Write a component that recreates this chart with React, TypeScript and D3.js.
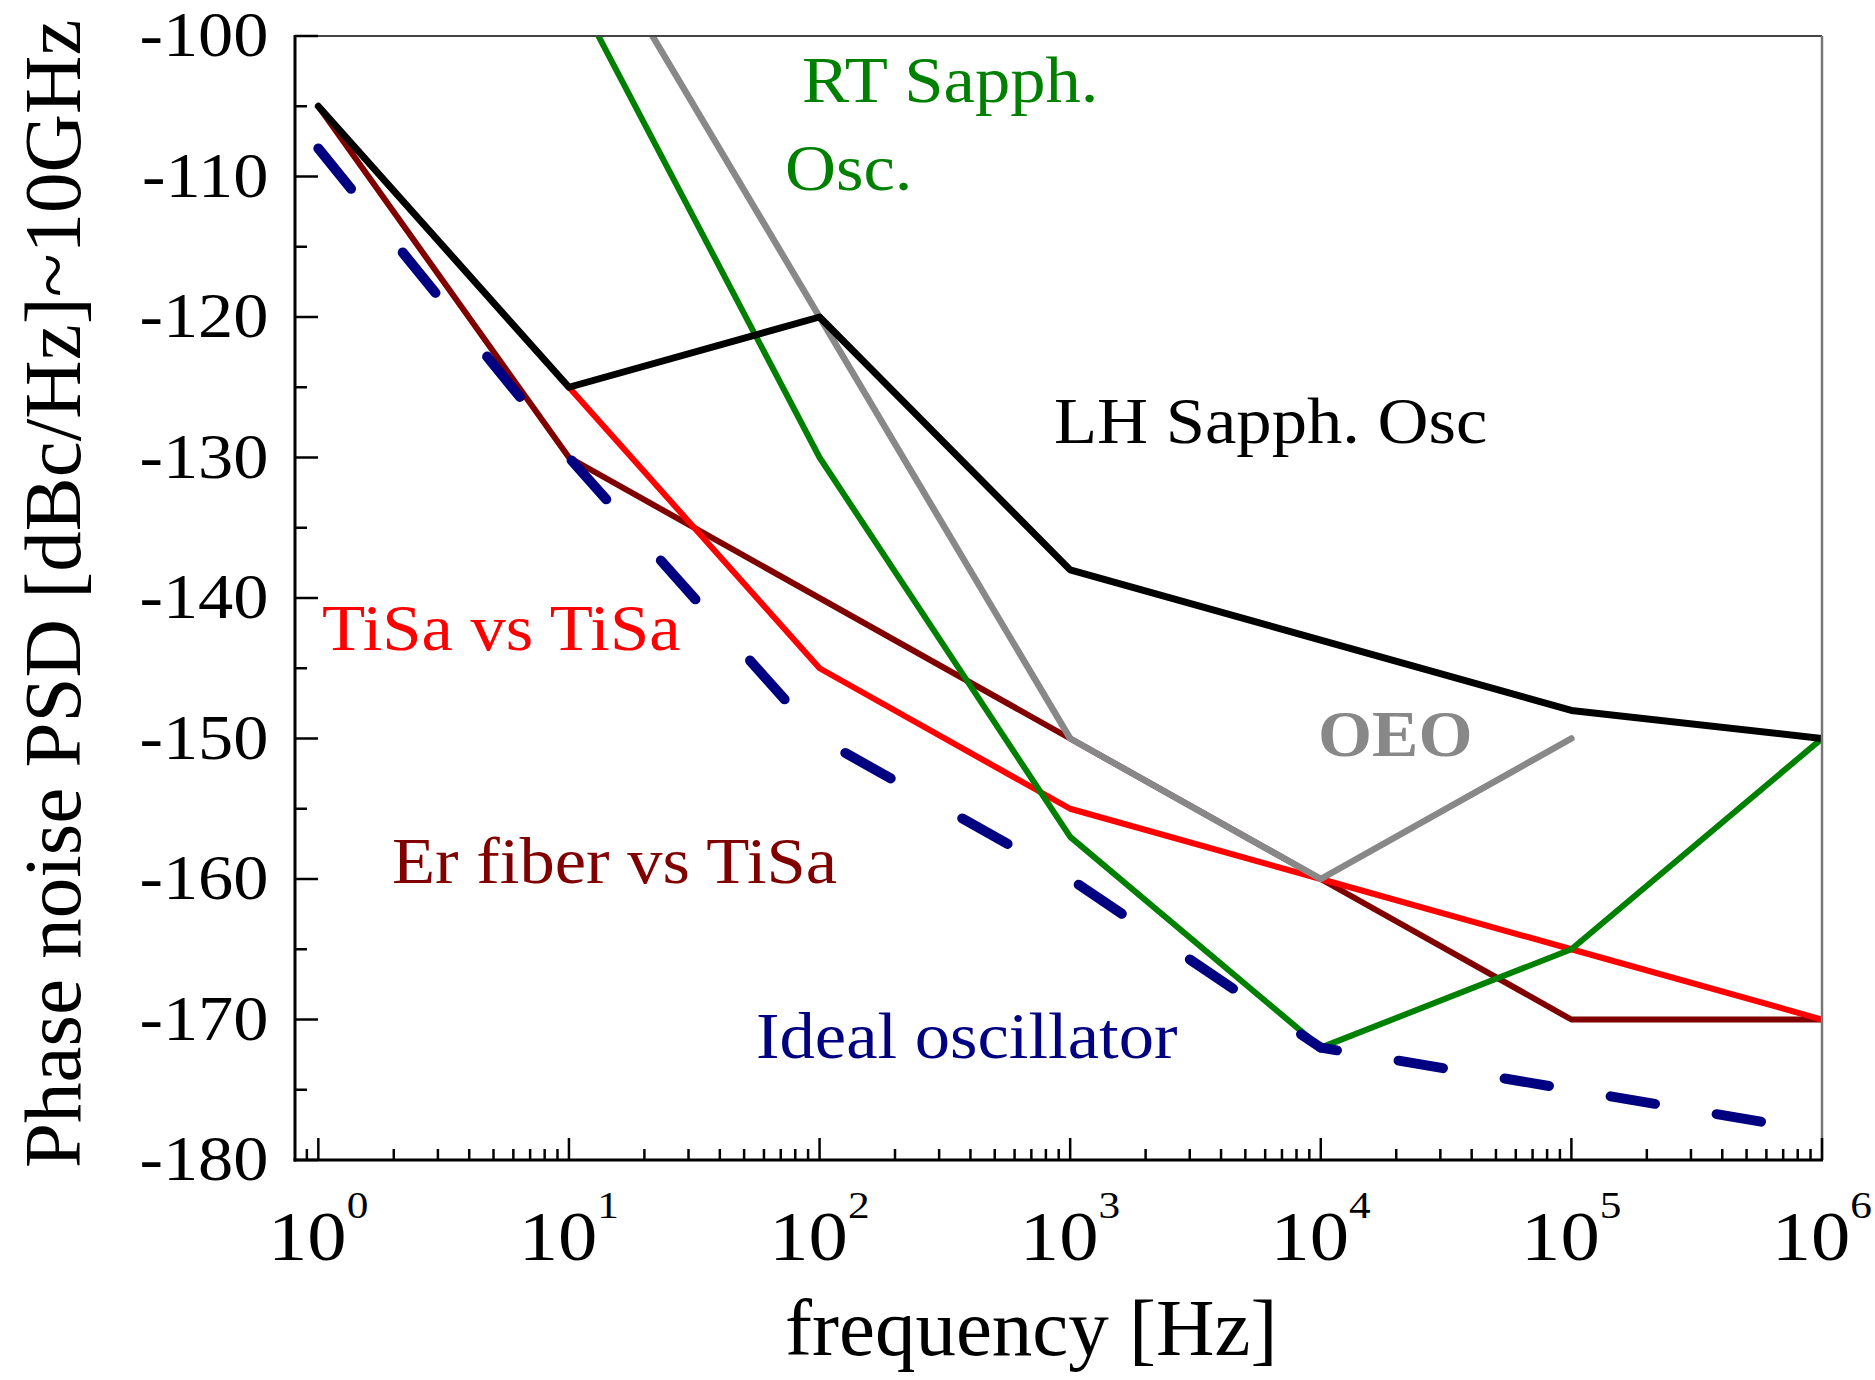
import React from 'react';
import * as d3 from 'd3';

// ---------- data ----------
const yMajorTicks = [-180, -170, -160, -150, -140, -130, -120, -110, -100];
const yMinorTicks = [-175, -165, -155, -145, -135, -125, -115, -105];
const xMajorExponents = [0, 1, 2, 3, 4, 5, 6];
const xMinorMantissas = [2, 3, 4, 5, 6, 7, 8, 9];

const freqLH = [1, 10, 100, 1000, 1e4, 1e5, 1e6];
const psdLH = [-105, -125, -120, -138, -143, -148, -150];

const freqEr = [1, 10, 1000, 1e4, 1e5, 1e6];
const psdEr = [-105, -130, -150, -160, -170, -170];

const freqTiSa = [10, 100, 1000, 1e4, 1e5, 1e6];
const psdTiSa = [-125, -145, -155, -160, -165, -170];

const freqRT = [10, 100, 1000, 1e4, 1e5, 1e6];
const psdRT = [-96, -130, -157, -172, -165, -150];

const freqOEO = [10, 1000, 1e4, 1e5];
const psdOEO = [-90, -150, -160, -150];

const freqIdeal = [1, 10, 100, 1000, 1e4, 1e5, 1e6];
const psdIdeal = [-108, -130, -150, -160, -172, -175, -178];

// ---------- layout ----------
const W = 1875;
const H = 1380;
const PL = 295, PR = 1822, PT = 36, PB = 1160;
const FONT = "'Liberation Serif', 'Times New Roman', serif";

const labels = [
  { text: 'RT Sapph.', x: 802, y: 102, color: '#008000', size: 66, bold: false },
  { text: 'Osc.', x: 785, y: 190, color: '#008000', size: 66, bold: false },
  { text: 'LH Sapph. Osc', x: 1054, y: 443, color: '#000000', size: 66, bold: false },
  { text: 'TiSa vs TiSa', x: 322, y: 650, color: '#ff0000', size: 66, bold: false },
  { text: 'Er fiber vs TiSa', x: 392, y: 883, color: '#800000', size: 66, bold: false },
  { text: 'Ideal oscillator', x: 756, y: 1058, color: '#000080', size: 66, bold: false },
  { text: 'OEO', x: 1318, y: 756, color: '#888888', size: 65, bold: true },
];

export default function App() {
  const x = d3.scaleLog().domain([0.807, 1e6]).range([PL, PR]);
  const y = d3.scaleLinear().domain([-180, -100]).range([PB, PT]);

  const line = d3
    .line<[number, number]>()
    .x((d) => x(d[0]))
    .y((d) => y(d[1]));

  const zip = (f: number[], v: number[]) => f.map((ff, i) => [ff, v[i]] as [number, number]);

  const series = [
    { pts: zip(freqEr, psdEr), color: '#800000', w: 6 },
    { pts: zip(freqTiSa, psdTiSa), color: '#ff0000', w: 6 },
    { pts: zip(freqOEO, psdOEO), color: '#888888', w: 6.5 },
    { pts: zip(freqRT, psdRT), color: '#008000', w: 6 },
    { pts: zip(freqLH, psdLH), color: '#000000', w: 7 },
  ];

  // ideal oscillator: dashed, drawn in two parts (steep / shallow) split at 1e4
  const ideal = zip(freqIdeal, psdIdeal);
  const splitIdx = freqIdeal.indexOf(1e4);
  const partA = ideal.slice(0, splitIdx + 1);
  const partB = ideal.slice(splitIdx);

  const xMinorTicks: number[] = [0.9];
  for (let e = 0; e < 6; e++) {
    for (const m of xMinorMantissas) xMinorTicks.push(m * Math.pow(10, e));
  }

  return (
    <svg
      width={W}
      height={H}
      style={{ position: 'absolute', left: 0, top: 0, background: '#fff' }}
      fontFamily={FONT}
    >
      <defs>
        <clipPath id="plotClip">
          <rect x={PL} y={PT} width={PR - PL} height={PB - PT} />
        </clipPath>
      </defs>
      <rect x={0} y={0} width={W} height={H} fill="#fff" />

      {/* series */}
      <g clipPath="url(#plotClip)" fill="none" strokeLinejoin="round" strokeLinecap="round">
        {series.map((s, i) => (
          <path key={i} d={line(s.pts) || ''} stroke={s.color} strokeWidth={s.w} />
        ))}
        <path d={line(partA) || ''} stroke="#000080" strokeWidth={10} strokeDasharray="52,82" />
        <path
          d={line(partB) || ''}
          stroke="#000080"
          strokeWidth={10}
          strokeDasharray="45,62.5"
          strokeDashoffset={28.6}
        />
      </g>

      {/* frame */}
      <line x1={PL} x2={PR} y1={PT} y2={PT} stroke="#444" strokeWidth={2} />
      <line x1={PR} x2={PR} y1={PT} y2={PB} stroke="#777" strokeWidth={2.5} />
      <line x1={PL} x2={PL} y1={PT - 1} y2={PB + 1.5} stroke="#000" strokeWidth={3} />
      <line x1={PL - 1.5} x2={PR + 1} y1={PB} y2={PB} stroke="#000" strokeWidth={3} />

      {/* y ticks */}
      {yMajorTicks.map((t) => (
        <line key={'ym' + t} x1={PL} x2={PL + 23} y1={y(t)} y2={y(t)} stroke="#000" strokeWidth={2.5} />
      ))}
      {yMinorTicks.map((t) => (
        <line key={'yn' + t} x1={PL} x2={PL + 12} y1={y(t)} y2={y(t)} stroke="#000" strokeWidth={2.5} />
      ))}
      {yMajorTicks.map((t) => (
        <g key={'yl' + t} transform={`translate(268.5,${y(t) + 20}) scale(1.1,1)`}>
          <text x={0} y={0} fontSize={64} textAnchor="end" fill="#000">
            {String(t)}
          </text>
        </g>
      ))}

      {/* x ticks */}
      {xMajorExponents.map((e) => (
        <line
          key={'xm' + e}
          x1={x(Math.pow(10, e))}
          x2={x(Math.pow(10, e))}
          y1={PB}
          y2={PB - 22}
          stroke="#000"
          strokeWidth={2.5}
        />
      ))}
      {xMinorTicks.map((t) => (
        <line key={'xn' + t} x1={x(t)} x2={x(t)} y1={PB} y2={PB - 11} stroke="#000" strokeWidth={2.5} />
      ))}
      {xMajorExponents.map((e) => (
        <g key={'xl' + e} transform={`translate(${x(Math.pow(10, e)) - 50.3},1260) scale(1.14,1)`}>
          <text x={0} y={0} fontSize={69} fill="#000">
            10
            <tspan fontSize={38} dy={-42}>
              {String(e)}
            </tspan>
          </text>
        </g>
      ))}

      {/* axis titles */}
      <text transform="translate(80,1168) rotate(-90)" fontSize={81} fill="#000">
        Phase noise PSD [dBc/Hz]~10GHz
      </text>
      <text x={785} y={1355} fontSize={81} fill="#000">
        frequency [Hz]
      </text>

      {/* annotations */}
      {labels.map((l) => (
        <g key={l.text} transform={`translate(${l.x},${l.y}) scale(1.07,1)`}>
          <text x={0} y={0} fontSize={l.size} fill={l.color} fontWeight={l.bold ? 'bold' : 'normal'}>
            {l.text}
          </text>
        </g>
      ))}
    </svg>
  );
}
